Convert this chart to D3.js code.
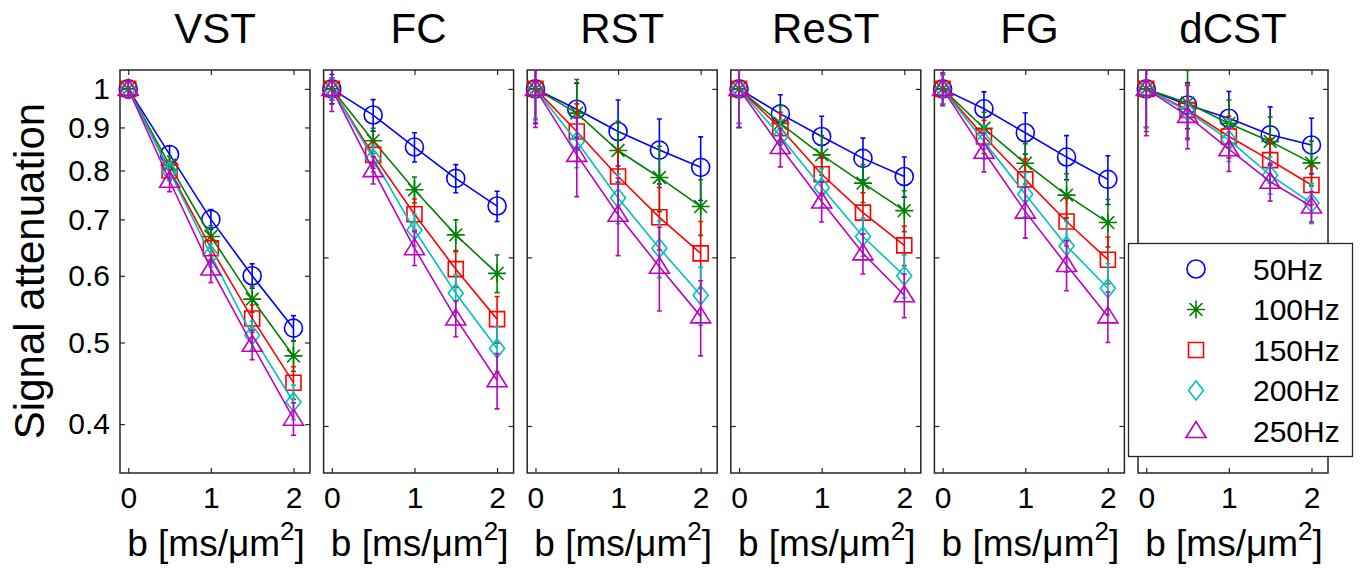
<!DOCTYPE html>
<meta charset="utf-8">
<script src="https://d3js.org/d3.v7.min.js"></script>
<style>
  body { margin: 0; background: #fff; }
  text { font-family: "Liberation Sans", Arial, sans-serif; fill: #000; }
</style>
<div id="my_dataviz"></div>
<script>
  // b values (x) and series names
  var bValues = [0, 0.5, 1, 1.5, 2];
  var panelNames = ["VST", "FC", "RST", "ReST", "FG", "dCST"];
  var freqLabels = ["50Hz", "100Hz", "150Hz", "200Hz", "250Hz"];
  var xTicks = [0, 1, 2];
  var yTicksFirst = [0.4, 0.5, 0.6, 0.7, 0.8, 0.9, 1];
  var yTicksOther = [0.398, 0.631, 1];

  // mean signal attenuation, one row per frequency
  var vstMean = [
    [1, 0.836, 0.700, 0.600, 0.520],
    [1, 0.812, 0.668, 0.563, 0.482],
    [1, 0.800, 0.647, 0.534, 0.448],
    [1, 0.798, 0.635, 0.510, 0.425],
    [1, 0.778, 0.612, 0.497, 0.406]
  ];
  var vstErr = [
    [0.02, 0.02, 0.019, 0.02, 0.018],
    [0.02, 0.02, 0.02, 0.02, 0.02],
    [0.02, 0.02, 0.02, 0.02, 0.02],
    [0.02, 0.02, 0.02, 0.02, 0.02],
    [0.025, 0.023, 0.023, 0.02, 0.018]
  ];
  var fcMean = [
    [1, 0.931, 0.853, 0.783, 0.726],
    [1, 0.868, 0.759, 0.671, 0.604],
    [1, 0.835, 0.710, 0.611, 0.533],
    [1, 0.827, 0.680, 0.572, 0.492],
    [1, 0.801, 0.647, 0.534, 0.451]
  ];
  var fcErr = [
    [0.04, 0.04, 0.034, 0.03, 0.03],
    [0.03, 0.03, 0.027, 0.028, 0.031],
    [0.03, 0.03, 0.03, 0.03, 0.034],
    [0.03, 0.03, 0.03, 0.03, 0.03],
    [0.06, 0.03, 0.03, 0.026, 0.034]
  ];
  var rstMean = [
    [1, 0.946, 0.890, 0.846, 0.807],
    [1, 0.936, 0.845, 0.785, 0.725],
    [1, 0.890, 0.787, 0.704, 0.638],
    [1, 0.866, 0.742, 0.647, 0.569],
    [1, 0.835, 0.709, 0.615, 0.537]
  ];
  var rstErr = [
    [0.09, 0.07, 0.08, 0.075, 0.07],
    [0.08, 0.09, 0.07, 0.07, 0.055],
    [0.08, 0.07, 0.06, 0.06, 0.058],
    [0.08, 0.06, 0.05, 0.05, 0.045],
    [0.1, 0.09, 0.075, 0.07, 0.055]
  ];
  var restMean = [
    [1, 0.934, 0.878, 0.827, 0.787],
    [1, 0.910, 0.835, 0.773, 0.717],
    [1, 0.898, 0.792, 0.713, 0.652],
    [1, 0.878, 0.764, 0.668, 0.600],
    [1, 0.853, 0.735, 0.638, 0.569]
  ];
  var restErr = [
    [0.1, 0.05, 0.05, 0.047, 0.043],
    [0.1, 0.045, 0.045, 0.04, 0.04],
    [0.09, 0.04, 0.04, 0.04, 0.035],
    [0.09, 0.04, 0.04, 0.035, 0.035],
    [0.1, 0.045, 0.04, 0.035, 0.034]
  ];
  var fgMean = [
    [1, 0.947, 0.887, 0.830, 0.781],
    [1, 0.898, 0.816, 0.748, 0.694],
    [1, 0.878, 0.781, 0.696, 0.627],
    [1, 0.866, 0.750, 0.651, 0.580],
    [1, 0.842, 0.715, 0.618, 0.537]
  ];
  var fgErr = [
    [0.04, 0.045, 0.05, 0.05, 0.052],
    [0.04, 0.04, 0.045, 0.045, 0.045],
    [0.04, 0.04, 0.045, 0.045, 0.04],
    [0.04, 0.04, 0.045, 0.045, 0.04],
    [0.045, 0.045, 0.05, 0.042, 0.037]
  ];
  var dcstMean = [
    [1, 0.957, 0.923, 0.882, 0.858],
    [1, 0.962, 0.910, 0.866, 0.817],
    [1, 0.944, 0.878, 0.823, 0.769],
    [1, 0.940, 0.870, 0.790, 0.732],
    [1, 0.929, 0.848, 0.776, 0.725]
  ];
  var dcstErr = [
    [0.1, 0.06, 0.07, 0.07, 0.065],
    [0.11, 0.09, 0.06, 0.06, 0.05],
    [0.1, 0.07, 0.05, 0.05, 0.04],
    [0.1, 0.07, 0.05, 0.04, 0.04],
    [0.12, 0.08, 0.05, 0.04, 0.03]
  ];

  var means = [vstMean, fcMean, rstMean, restMean, fgMean, dcstMean];
  var errs = [vstErr, fcErr, rstErr, restErr, fgErr, dcstErr];

  var colors = ["#0000ff", "#008000", "#ff0000", "#00bfbf", "#bf00bf"];
  var shapes = ["circle", "star", "square", "diamond", "triangle"];

  // figure layout
  var W = 1363, H = 580;
  var panelLeft0 = 120, panelStep = 203.6, panelW = 190;
  var panelTop = 70, panelBottom = 473;
  var frameColor = "#262626";
  var lw = 1.6;

  var svg = d3.select("#my_dataviz")
    .append("svg")
      .attr("width", W)
      .attr("height", H);

  function markerPath(shape) {
    switch (shape) {
      case "circle":
        return "M-9,0A9,9 0 1,0 9,0A9,9 0 1,0 -9,0Z";
      case "square":
        return "M-7.5,-7.5H7.5V7.5H-7.5Z";
      case "diamond":
        return "M0,-9.5L7.5,0L0,9.5L-7.5,0Z";
      case "triangle":
        return "M0,-9.5L10,6.5L-10,6.5Z";
      case "star":
        var a = 9, d = 6.4;
        return "M-" + a + ",0H" + a + "M0,-" + a + "V" + a +
          "M-" + d + ",-" + d + "L" + d + "," + d +
          "M-" + d + "," + d + "L" + d + ",-" + d;
    }
  }

  var y = d3.scaleLog()
    .domain([0.35, 1.053])
    .range([panelBottom, panelTop]);

  panelNames.forEach(function (name, p) {
    var left = panelLeft0 + p * panelStep;
    var g = svg.append("g")
      .attr("transform", "translate(" + left + ",0)");

    var x = d3.scaleLinear()
      .domain([-0.1, 2.2])
      .range([0, panelW]);

    // clip region for lines / error bars
    g.append("clipPath")
      .attr("id", "clip" + p)
      .append("rect")
        .attr("x", 0)
        .attr("y", panelTop)
        .attr("width", panelW)
        .attr("height", panelBottom - panelTop);

    // box
    g.append("rect")
      .attr("x", 0)
      .attr("y", panelTop)
      .attr("width", panelW)
      .attr("height", panelBottom - panelTop)
      .attr("fill", "#fff")
      .attr("stroke", frameColor)
      .attr("stroke-width", 1.5);

    var yTicks = p === 0 ? yTicksFirst : yTicksOther;

    // axes, ticks point inward like matlab
    var xb = g.append("g")
      .attr("transform", "translate(0," + panelBottom + ")")
      .call(d3.axisBottom(x).tickValues(xTicks).tickSize(-5).tickPadding(14).tickFormat(d3.format("d")));
    var xt = g.append("g")
      .attr("transform", "translate(0," + panelTop + ")")
      .call(d3.axisTop(x).tickValues(xTicks).tickSize(-5).tickFormat(""));
    var yl = g.append("g")
      .call(d3.axisLeft(y).tickValues(yTicks).tickSize(-5).tickPadding(10)
        .tickFormat(p === 0 ? function (d) { return d === 1 ? "1" : d3.format(".1f")(d); } : function () { return ""; }));
    var yr = g.append("g")
      .attr("transform", "translate(" + panelW + ",0)")
      .call(d3.axisRight(y).tickValues(yTicks).tickSize(-5).tickFormat(""));

    [xb, xt, yl, yr].forEach(function (ax) {
      ax.select(".domain").remove();
      ax.selectAll(".tick line").attr("stroke", frameColor).attr("stroke-width", 1.2);
      ax.selectAll(".tick text")
        .style("font-family", '"Liberation Sans", Arial, sans-serif')
        .style("font-size", "30px")
        .attr("fill", "#000");
    });

    // title
    g.append("text")
      .attr("x", panelW / 2)
      .attr("y", 43)
      .attr("text-anchor", "middle")
      .style("font-size", "42px")
      .text(name);

    // x label
    var xl = g.append("text")
      .attr("x", panelW / 2 + 1)
      .attr("y", 556)
      .attr("text-anchor", "middle")
      .style("font-size", "37px");
    xl.append("tspan").text("b [ms/\u03bcm");
    xl.append("tspan").attr("dy", -16).style("font-size", "26px").text("2");
    xl.append("tspan").attr("dy", 16).text("]");

    // data series
    var plot = g.append("g");
    means[p].forEach(function (vals, s) {
      var pts = bValues.map(function (b, i) {
        return { b: b, v: vals[i], e: errs[p][s][i] };
      });
      var sg = plot.append("g");
      var clipped = sg.append("g").attr("clip-path", "url(#clip" + p + ")");

      clipped.append("path")
        .datum(pts)
        .attr("fill", "none")
        .attr("stroke", colors[s])
        .attr("stroke-width", lw)
        .attr("d", d3.line()
          .x(function (d) { return x(d.b); })
          .y(function (d) { return y(d.v); }));

      var eb = clipped.selectAll("g.eb")
        .data(pts)
        .enter()
        .append("g")
          .attr("stroke", colors[s])
          .attr("stroke-width", lw);
      eb.append("line")
        .attr("x1", function (d) { return x(d.b); })
        .attr("x2", function (d) { return x(d.b); })
        .attr("y1", function (d) { return y(d.v - d.e); })
        .attr("y2", function (d) { return y(d.v + d.e); });
      eb.append("line")
        .attr("x1", function (d) { return x(d.b) - 2.5; })
        .attr("x2", function (d) { return x(d.b) + 2.5; })
        .attr("y1", function (d) { return y(d.v - d.e); })
        .attr("y2", function (d) { return y(d.v - d.e); });
      eb.append("line")
        .attr("x1", function (d) { return x(d.b) - 2.5; })
        .attr("x2", function (d) { return x(d.b) + 2.5; })
        .attr("y1", function (d) { return y(d.v + d.e); })
        .attr("y2", function (d) { return y(d.v + d.e); });

      sg.selectAll("path.mk")
        .data(pts)
        .enter()
        .append("path")
          .attr("class", "mk")
          .attr("transform", function (d) { return "translate(" + x(d.b) + "," + y(d.v) + ")"; })
          .attr("d", markerPath(shapes[s]))
          .attr("fill", "none")
          .attr("stroke", colors[s])
          .attr("stroke-width", lw);
    });
  });

  // y label
  svg.append("text")
    .attr("transform", "rotate(-90)")
    .attr("x", -271)
    .attr("y", 44)
    .attr("text-anchor", "middle")
    .style("font-size", "42px")
    .text("Signal attenuation");

  // legend
  var legend = svg.append("g");
  legend.append("rect")
    .attr("x", 1128.5)
    .attr("y", 243.5)
    .attr("width", 224)
    .attr("height", 213)
    .attr("fill", "#fff")
    .attr("stroke", frameColor)
    .attr("stroke-width", 1.3);

  var legendRowY = d3.scalePoint()
    .domain(freqLabels)
    .range([269, 431]);

  freqLabels.forEach(function (lab, s) {
    legend.append("path")
      .attr("transform", "translate(1196," + legendRowY(lab) + ")")
      .attr("d", markerPath(shapes[s]))
      .attr("fill", "none")
      .attr("stroke", colors[s])
      .attr("stroke-width", lw);
    legend.append("text")
      .attr("x", 1253)
      .attr("y", legendRowY(lab))
      .attr("dy", "0.36em")
      .style("font-size", "30px")
      .text(lab);
  });
</script>
